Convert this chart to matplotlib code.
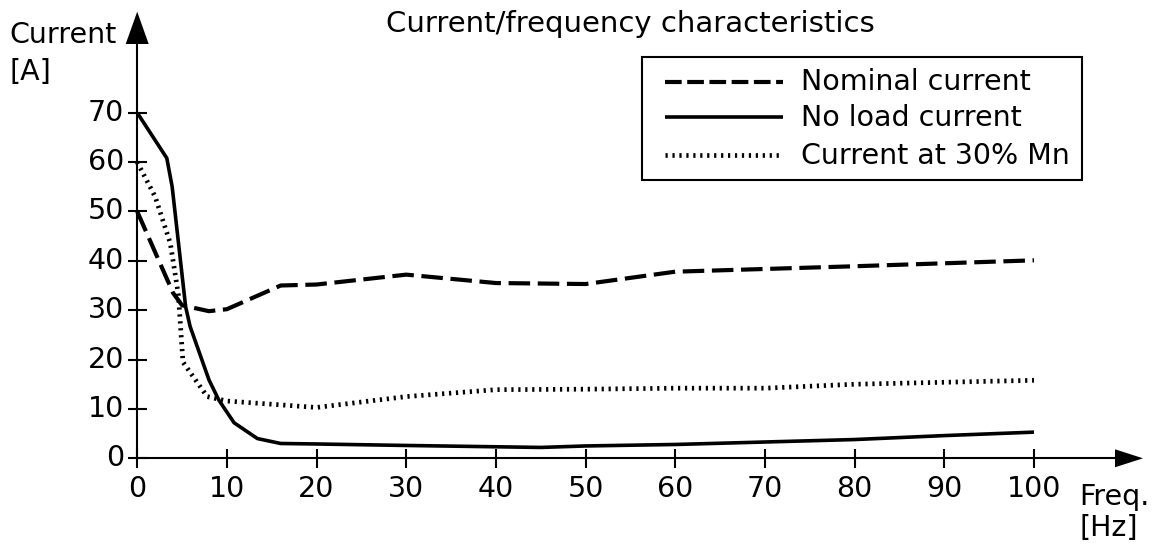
import matplotlib
matplotlib.use("Agg")
import matplotlib.pyplot as plt
from matplotlib.lines import Line2D
from matplotlib.patches import Rectangle, Polygon

plt.rcParams['font.family'] = ['DejaVu Sans']
plt.rcParams['lines.scale_dashes'] = False

# ---------------- data ----------------
title = "Current/frequency characteristics"
x_ticks = [0, 10, 20, 30, 40, 50, 60, 70, 80, 90, 100]
y_ticks = [0, 10, 20, 30, 40, 50, 60, 70]

freq_nominal = [0, 4, 5, 8, 10, 16, 20, 30, 40, 50, 60, 80, 100]
nominal = [50, 33.5, 31, 29.8, 30.2, 35, 35.2, 37.2, 35.5, 35.3, 37.8, 38.9, 40.1]

freq_noload = [0, 3.3, 3.9, 5.4, 5.9, 8, 9.1, 10.8, 13.4, 16, 20, 30, 45, 50, 60, 70, 80, 90, 100]
noload = [70, 60.8, 55, 30.7, 26.7, 15.9, 11.8, 7.2, 4.0, 3.0, 2.9, 2.6, 2.2, 2.5, 2.8, 3.3, 3.8, 4.6, 5.3]

freq_30 = [0, 2, 3.7, 4.6, 5.1, 7.8, 10, 20, 30, 40, 50, 60, 70, 80, 100]
current_30 = [60, 53, 43.5, 33, 19.5, 12.5, 11.6, 10.3, 12.5, 13.9, 14.0, 14.2, 14.2, 15.0, 15.8]

series_names = ["Nominal current", "No load current", "Current at 30% Mn"]

# ---------------- layout ----------------
W, H = 1156, 548
FS = 20.5
fig = plt.figure(figsize=(W / 100, H / 100), dpi=100)
ax = fig.add_axes([0, 0, 1, 1])
ax.set_axis_off()

X0, XS = 137.2, 8.968     # pixel of 0 Hz, pixels per Hz
Y0, YS = 458.3, 4.937     # pixel of 0 A, pixels per A
ax.set_xlim(-X0 / XS, (W - X0) / XS)
ax.set_ylim(-(H - Y0) / YS, Y0 / YS)

def px(x, y):
    return ((x - X0) / XS, (Y0 - y) / YS)

def fx(x):
    return x / W

def fy(y):
    return 1 - y / H

black = "black"
styles = [
    dict(color=black, lw=3.0, linestyle=(0, (15.5, 5.5)), dash_capstyle="butt"),
    dict(color=black, lw=2.6, linestyle="-", solid_capstyle="butt"),
    dict(color=black, lw=3.4, linestyle=(0, (1.6, 3.4)), dash_capstyle="butt"),
]
legend_styles = [
    dict(color=black, lw=3.0, linestyle=(0, (12, 4)), dash_capstyle="butt"),
    dict(color=black, lw=2.6, linestyle="-", solid_capstyle="butt"),
    dict(color=black, lw=3.4, linestyle=(0, (1.6, 3.4)), dash_capstyle="butt"),
]

xs_list = [freq_nominal, freq_noload, freq_30]
ys_list = [nominal, noload, current_30]
for xs, ys, st in zip(xs_list, ys_list, styles):
    ax.plot(xs, ys, **st, zorder=3)

# ---------------- axes with arrows ----------------
axis_lw = 1.5
ax.plot([0, 0], [0, px(0, 40)[1]], color=black, lw=axis_lw, solid_capstyle="butt")
ax.plot([0, px(1120, 0)[0]], [0, 0], color=black, lw=axis_lw, solid_capstyle="butt")

ax.add_patch(Polygon([px(X0, 11.7), px(X0 - 11.5, 44), px(X0 + 11.5, 44)],
                     closed=True, color=black, lw=0))
ax.add_patch(Polygon([px(1143, Y0), px(1115, Y0 - 9), px(1115, Y0 + 9)],
                     closed=True, color=black, lw=0))

tick_half = 9.5
for t in y_ticks:
    ax.plot([px(X0 - tick_half, 0)[0], px(X0 + tick_half, 0)[0]], [t, t],
            color=black, lw=axis_lw, solid_capstyle="butt")
    fig.text(fx(124), fy(Y0 - t * YS), str(t), ha="right", va="center",
             fontsize=FS)
for t in x_ticks:
    ax.plot([t, t], [px(0, Y0 - tick_half)[1], px(0, Y0 + tick_half)[1]],
            color=black, lw=axis_lw, solid_capstyle="butt")
    fig.text(fx(X0 + t * XS), fy(497), str(t), ha="center", va="baseline",
             fontsize=FS)

# axis labels
fig.text(fx(9), fy(43), "Current", ha="left", va="baseline", fontsize=FS)
fig.text(fx(9), fy(80), "[A]", ha="left", va="baseline", fontsize=FS)
fig.text(fx(1079), fy(505), "Freq.", ha="left", va="baseline", fontsize=FS)
fig.text(fx(1079), fy(536), "[Hz]", ha="left", va="baseline", fontsize=FS)

# title
fig.text(fx(630), fy(32), title, ha="center", va="baseline", fontsize=FS + 0.5)

# ---------------- legend ----------------
fig.add_artist(Rectangle((fx(641.7), fy(180)), fx(1081.7) - fx(641.7), fy(56.7) - fy(180),
                         transform=fig.transFigure, fill=False, edgecolor=black, lw=1.5))
rows = [81.7, 116.5, 155]
baselines = [90, 126, 164]
for name, st, ry, bl in zip(series_names, legend_styles, rows, baselines):
    fig.add_artist(Line2D([fx(665), fx(783)], [fy(ry), fy(ry)], transform=fig.transFigure, **st))
    fig.text(fx(801), fy(bl), name, ha="left", va="baseline", fontsize=FS)

fig.savefig("out.png", dpi=100)
